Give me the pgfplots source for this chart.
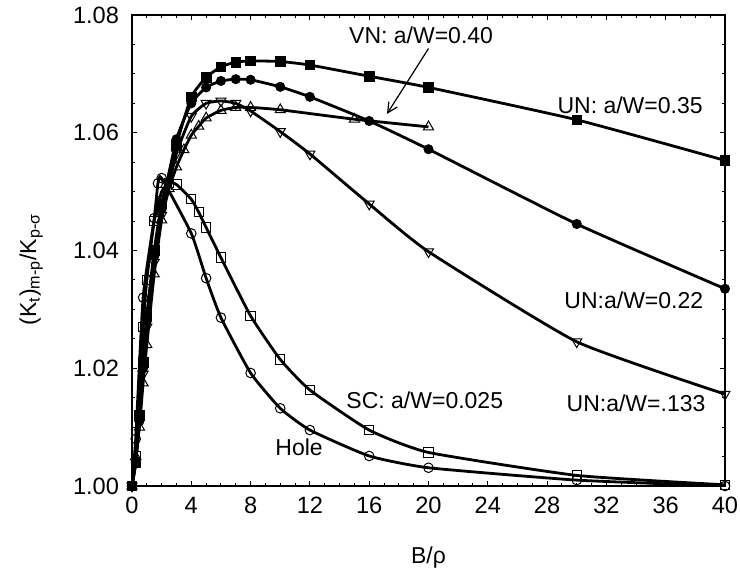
\documentclass[border=0pt]{standalone}
\usepackage{fontspec}
\setmainfont{Liberation Sans}
\usepackage{pgfplots}
\pgfplotsset{compat=1.18}
\usetikzlibrary{arrows.meta}

\pgfplotstableread{
x y
0 1.000
0.25 1.004
0.5 1.012
0.75 1.021
1 1.029
1.5 1.040
2 1.048
3 1.058
4 1.0661
5 1.0694
6 1.0712
7 1.0720
8 1.0722
10 1.0721
12 1.0715
16 1.0696
20 1.0677
30 1.0622
40 1.0553
}\unthirtyfive

\pgfplotstableread{
x y
0 1.000
0.25 1.004
0.5 1.011
0.75 1.020
1 1.028
1.5 1.039
2 1.047
3 1.0589
4 1.0650
5 1.0677
6 1.0688
7 1.0691
8 1.0690
10 1.0678
12 1.0661
16 1.0620
20 1.0572
30 1.0445
40 1.0335
}\untwentytwo

\pgfplotstableread{
x y
0 1.000
0.25 1.004
0.5 1.011
0.75 1.019
1 1.027
1.5 1.038
2 1.046
3 1.0565
4 1.0628
5 1.0650
6 1.0654
7 1.0650
8 1.0637
10 1.0602
12 1.0564
16 1.0479
20 1.0398
30 1.0245
40 1.0156
}\unthirteen

\pgfplotstableread{
x y
0 1.000
0.25 1.005
0.5 1.010
0.75 1.0175
1 1.024
1.5 1.036
2 1.0452
2.5 1.0505
3 1.0542
3.5 1.0571
4 1.0596
4.5 1.0611
5 1.0625
6 1.0638
7 1.0643
8 1.0643
10 1.0639
15 1.0623
20 1.0610
}\vnforty

\pgfplotstableread{
x y
0 1.000
0.25 1.005
0.5 1.012
0.75 1.027
1 1.035
1.5 1.045
2 1.050
2.5 1.0515
3 1.0512
4 1.0487
4.5 1.0465
5 1.0439
6 1.0388
8 1.0289
10 1.0215
12 1.0163
16 1.0095
20 1.0057
30 1.0018
40 1.0002
}\scdata

\pgfplotstableread{
x y
0 1.000
0.25 1.008
0.75 1.032
1.5 1.0455
1.75 1.0514
2 1.0523
4 1.0429
5 1.0353
6 1.0286
8 1.0192
10 1.0132
12 1.0095
16 1.0051
20 1.0031
30 1.0010
40 1.0000
}\holedata

\begin{document}
\begin{tikzpicture}[font=\fontsize{11.5}{13.8}\selectfont]
\useasboundingbox (0,0) rectangle (370pt,287pt);
\begin{axis}[
  at={(66pt,44pt)}, anchor=south west,
  scale only axis, width=296.5pt, height=235.5pt,
  xmin=0, xmax=40, ymin=1, ymax=1.08,
  xtick={0,4,...,40},
  ytick={1.00,1.02,1.04,1.06,1.08},
  minor x tick num=3, minor y tick num=3,
  tick align=inside,
  major tick length=2.6pt, minor tick length=1.5pt,
  axis line style={line width=0.6pt},
  every tick/.style={line width=0.5pt},
  /pgf/number format/assume math mode=true,
  yticklabel style={/pgf/number format/.cd, fixed, fixed zerofill, precision=2, /tikz/.cd, xshift=-3pt},
  xticklabel style={yshift=-2pt},
  tick label style={font=\fontsize{11.8}{14}\selectfont},
  label style={font=\fontsize{11.5}{13.8}\selectfont},
  xlabel={B/ρ},
  xlabel style={at={(axis description cs:0.5,0)}, anchor=center, yshift=-36pt},
  ylabel={(K\textsubscript{t})\textsubscript{m-p}/K\textsubscript{p-σ}},
  every axis y label/.style={at={(axis description cs:-0.17,0.46)}, rotate=90, anchor=center},
  every axis plot/.append style={line width=1.4pt, smooth, tension=0.3},
]
\addplot[black, mark=square*, mark size=2.4pt, mark options={solid, line width=0.4pt}] table {\unthirtyfive};
\addplot[black, mark=*, mark size=2.3pt, mark options={solid, line width=0.4pt}] table {\untwentytwo};
\addplot[black, mark=triangle, mark size=2.9pt, mark options={solid, line width=0.5pt, fill=white, rotate=180}] table {\unthirteen};
\addplot[black, mark=triangle, mark size=2.9pt, mark options={solid, line width=0.5pt, fill=white}] table {\vnforty};
\addplot[black, mark=square, mark size=2.3pt, mark options={solid, line width=0.5pt, fill=white}] table {\scdata};
\addplot[black, mark=o, mark size=2.4pt, mark options={solid, line width=0.5pt, fill=white}] table {\holedata};

\node at (axis cs:19.5,1.0766) {VN: a/W=0.40};
\draw[line width=0.6pt, -{Straight Barb[length=5pt, width=5pt]}] (axis cs:20.0,1.0743) -- (axis cs:17.2,1.0632);
\node at (axis cs:33.6,1.0647) {UN: a/W=0.35};
\node at (axis cs:33.85,1.0316) {UN:a/W=0.22};
\node at (axis cs:34.0,1.0141) {UN:a/W=.133};
\node at (axis cs:19.75,1.0146) {SC: a/W=0.025};
\node at (axis cs:11.27,1.0065) {Hole};
\end{axis}
\end{tikzpicture}
\end{document}
